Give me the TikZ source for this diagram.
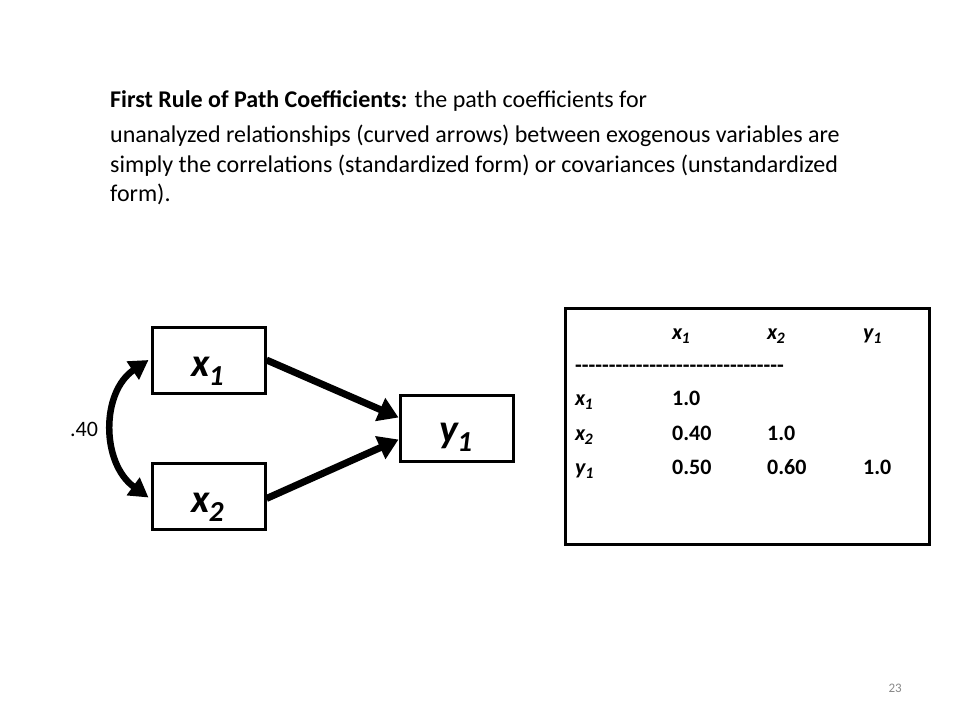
\documentclass[tikz,border=0pt]{standalone}
\usepackage{fontspec}
\setmainfont{Carlito}
\usetikzlibrary{arrows.meta}
% letter, subscript, subscript size, lowering
\newcommand\myvar[4]{\textbf{\textit{#1}\kern-0.04em\raisebox{-#4}{\fontsize{#3}{#3}\selectfont\textit{#2}}}}
\newcommand\bigvar[2]{\myvar{#1}{#2}{29pt}{9pt}}
\newcommand\tabvar[2]{\myvar{#1}{#2}{16pt}{4pt}}
\definecolor{pgnum}{RGB}{137,137,137}
\begin{document}
\begin{tikzpicture}[x=1pt,y=-1pt,
  txt/.style={anchor=base west,inner sep=0pt,font=\fontsize{24}{30}\selectfont},
  varbox/.style={draw,line width=3pt,inner sep=0pt,minimum width=113pt,minimum height=66pt},
  varlab/.style={anchor=base,inner sep=0pt,font=\fontsize{40}{44}\selectfont},
  tab/.style={anchor=base west,inner sep=0pt,font=\fontsize{22}{25}\selectfont\bfseries},
  patharrow/.style={line width=7pt,-{Triangle[length=20pt,width=24pt]}},
  corrarrow/.style={line width=6.5pt,{Triangle[length=19pt,width=21pt]}-{Triangle[length=19pt,width=21pt]}}]
\useasboundingbox (0,0) rectangle (960,720);
\fill[white] (0,0) rectangle (960,720);
% heading text
\node[txt] (t1) at (110,107) {\textbf{First Rule of Path Coefficients:} the path coefficients for};
\node[txt] (t2) at (110,142) {unanalyzed relationships (curved arrows) between exogenous variables are};
\node[txt] (t3) at (110,172) {simply the correlations (standardized form) or covariances (unstandardized};
\node[txt] (t4) at (110,201) {form).};
% path diagram
\node[varbox] (x1) at (208.5,360) {};
\node[varbox] (x2) at (208.5,496.5) {};
\node[varbox] (y1) at (456.5,428.5) {};
\node[varlab] (x1l) at ([xshift=-1pt,yshift=-16pt]x1.center) {\bigvar{x}{1}};
\node[varlab] (x2l) at ([xshift=-1pt,yshift=-16pt]x2.center) {\bigvar{x}{2}};
\node[varlab] (y1l) at ([xshift=-1pt,yshift=-14pt]y1.center) {\bigvar{y}{1}};
\draw[patharrow] (x1.east) -- ([yshift=11pt]y1.west);
\draw[patharrow] ([yshift=-2pt]x2.east) -- ([yshift=-11pt]y1.west);
\coordinate (c1) at ([xshift=-2pt]x1.west);
\coordinate (c2) at ([xshift=-2pt,yshift=-1pt]x2.west);
\draw[corrarrow] (c1) .. controls (101,392) and (101,463) .. (c2);
\node[anchor=base west,inner sep=0pt,font=\fontsize{22}{24}\selectfont] (r) at (70,436) {.40};
% correlation table
\node[draw,line width=3pt,inner sep=0pt,minimum width=364pt,minimum height=236pt] (tbl) at (747.5,426.5) {};
\node[tab] (h1) at (672,339) {\tabvar{x}{1}};
\node[tab] (h2) at (767,339) {\tabvar{x}{2}};
\node[tab] (h3) at (863,339) {\tabvar{y}{1}};
\node[tab] (dash) at (575,372) {-{}-{}-{}-{}-{}-{}-{}-{}-{}-{}-{}-{}-{}-{}-{}-{}-{}-{}-{}-{}-{}-{}-{}-{}-{}-{}-{}-{}-{}-{}-{}};
\node[tab] (r1) at (575,405) {\tabvar{x}{1}};
\node[tab] (r2) at (575,440) {\tabvar{x}{2}};
\node[tab] (r3) at (575,474) {\tabvar{y}{1}};
\node[tab] (v11) at (672,405) {1.0};
\node[tab] (v21) at (672,440) {0.40};
\node[tab] (v22) at (767,440) {1.0};
\node[tab] (v31) at (672,474) {0.50};
\node[tab] (v32) at (767,474) {0.60};
\node[tab] (v33) at (863,474) {1.0};
% page number
\node[anchor=base east,inner sep=0pt,font=\fontsize{13}{15}\selectfont,text=pgnum] (pg) at (902,692) {23};
\end{tikzpicture}
\end{document}
